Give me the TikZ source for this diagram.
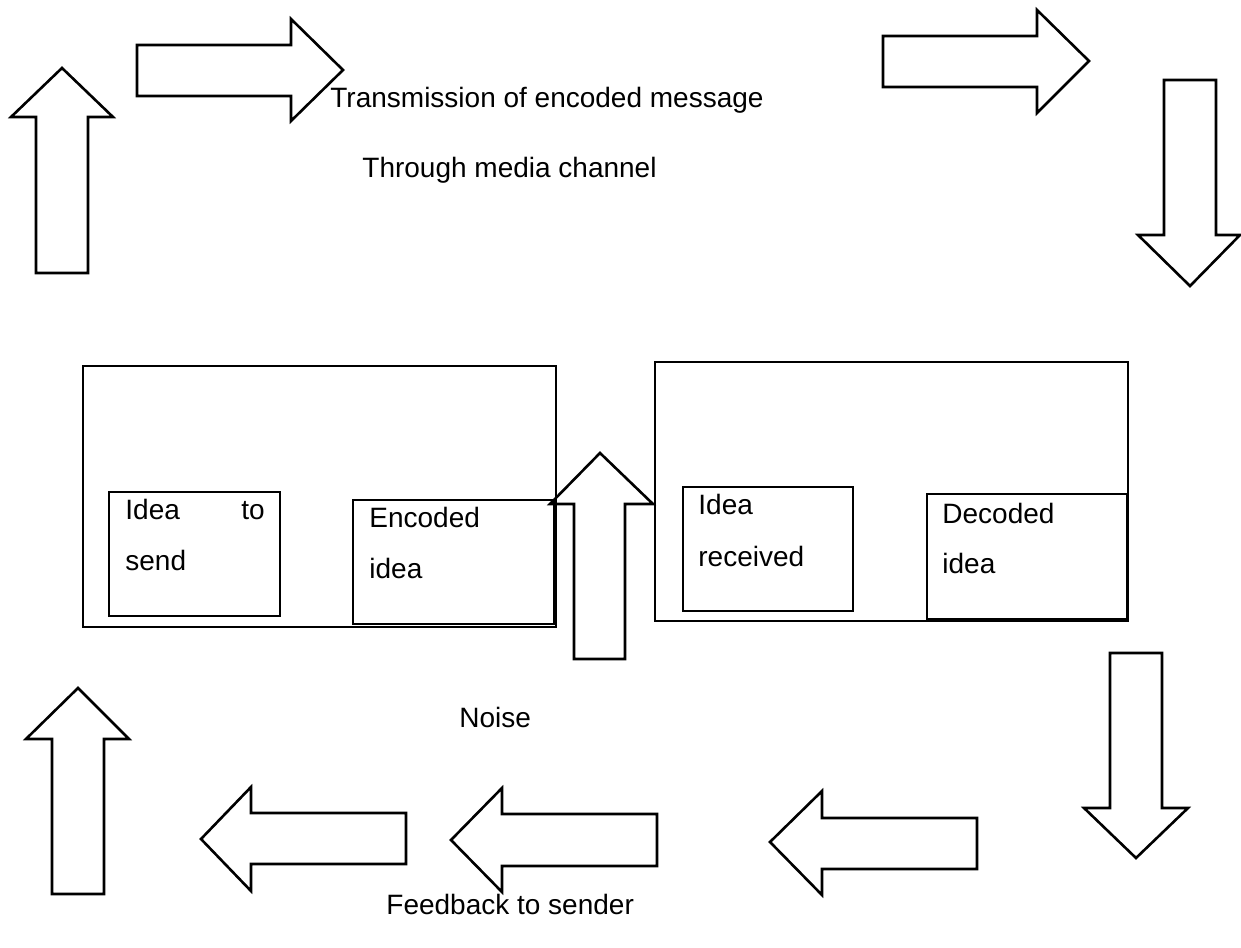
\documentclass[tikz,border=0pt]{standalone}
\usepackage{fontspec}
\setmainfont{Liberation Sans}
\begin{document}
\begin{tikzpicture}[x=0.5pt,y=-0.5pt,
  blockarrow/.style={draw=black,line width=1.3pt,line join=miter},
  box/.style={draw=black,line width=1.3pt},
  lbl/.style={anchor=base west,inner sep=0pt,font=\fontsize{14pt}{16pt}\selectfont},
  lble/.style={anchor=base east,inner sep=0pt,font=\fontsize{14pt}{16pt}\selectfont}]
\useasboundingbox[fill=white] (0,0) rectangle (1241,947);
% boxes
\draw[box] (83,366) rectangle (556,627);
\draw[box] (109,492) rectangle (280,616);
\draw[box] (353,500) rectangle (554,624);
\draw[box] (655,362) rectangle (1128,621);
\draw[box] (683,487) rectangle (853,611);
\draw[box] (927,494) rectangle (1127,619);
% arrows: top-left up
\draw[blockarrow] (36,273) -- (36,117) -- (11,117) -- (62,68) -- (113,117) -- (88,117) -- (88,273) -- cycle;
% top right-pointing
\draw[blockarrow] (137,45) -- (291,45) -- (291,19) -- (343,70) -- (291,121) -- (291,96) -- (137,96) -- cycle;
\draw[blockarrow] (883,36) -- (1037,36) -- (1037,10) -- (1089,61) -- (1037,113) -- (1037,87) -- (883,87) -- cycle;
% top right down
\draw[blockarrow] (1164,80) -- (1216,80) -- (1216,235) -- (1240,235) -- (1190,286) -- (1138,235) -- (1164,235) -- cycle;
% noise arrow up
\draw[blockarrow] (574,659) -- (574,504) -- (550,504) -- (600,453) -- (653,504) -- (625,504) -- (625,659) -- cycle;
% bottom right down
\draw[blockarrow] (1110,653) -- (1162,653) -- (1162,808) -- (1188,808) -- (1136,858) -- (1084,808) -- (1110,808) -- cycle;
% bottom left-pointing
\draw[blockarrow] (977,818) -- (822,818) -- (822,791) -- (770,842) -- (822,895) -- (822,869) -- (977,869) -- cycle;
\draw[blockarrow] (657,814) -- (502,814) -- (502,788) -- (451,840) -- (502,892) -- (502,866) -- (657,866) -- cycle;
\draw[blockarrow] (406,813) -- (251,813) -- (251,787) -- (201,839) -- (251,891) -- (251,864) -- (406,864) -- cycle;
% bottom-left up
\draw[blockarrow] (52,894) -- (52,739) -- (26,739) -- (78,688) -- (129,739) -- (104,739) -- (104,894) -- cycle;
% texts
\node[lbl] (t1) at (330,107) {Transmission of encoded message};
\node[lbl] (t2) at (362,177) {Through media channel};
\node[lbl] (t3) at (459,727) {Noise};
\node[lbl] (t4) at (386,914) {Feedback to sender};
\node[lbl] (s1) at (125,519) {Idea};
\node[lble] (s2) at (265,519) {to};
\node[lbl] (s3) at (125,570) {send};
\node[lbl] (e1) at (369,527) {Encoded};
\node[lbl] (e2) at (369,578) {idea};
\node[lbl] (r1) at (698,514) {Idea};
\node[lbl] (r2) at (698,566) {received};
\node[lbl] (d1) at (942,523) {Decoded};
\node[lbl] (d2) at (942,573) {idea};
\end{tikzpicture}
\end{document}
